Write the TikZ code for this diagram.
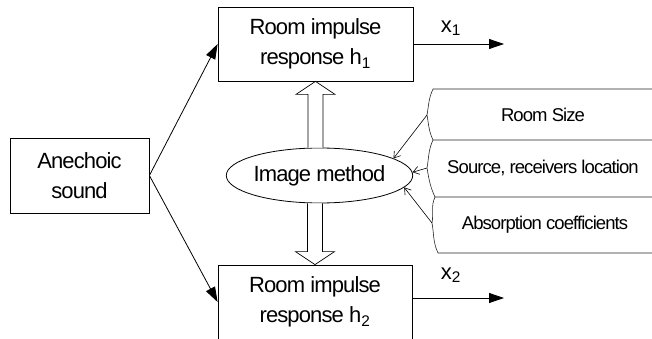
\documentclass[tikz,border=0pt]{standalone}
\usepackage{fontspec}
\setmainfont[LetterSpace=-4]{Liberation Sans}
\newfontfamily\smallfnt[LetterSpace=-5]{Liberation Sans}
\usetikzlibrary{arrows.meta,calc,shapes.geometric}
\newcommand\bigtxt{\fontsize{22}{30}\selectfont}
\newcommand\smtxt{\smallfnt\fontsize{18.5}{22}\selectfont}
\newcommand\hollowarrow[2]{%
  \draw[hollow] let \p1=(#1), \p2=(#2), \n1={(\y2-\y1)/abs(\y2-\y1)} in
   (\x2-7.5pt,\y1) -- (\x2-7.5pt,\y2-13pt*\n1) -- (\x2-19.5pt,\y2-13pt*\n1) -- (\x2,\y2)
   -- (\x2+19.5pt,\y2-13pt*\n1) -- (\x2+7.5pt,\y2-13pt*\n1) -- (\x2+7.5pt,\y1);}
\begin{document}
\begin{tikzpicture}[x=1pt,y=-1pt,
  box/.style={draw, line width=0.8pt, align=center, inner sep=0pt, font=\bigtxt},
  blk/.style={line width=0.8pt, -{Triangle[length=15pt,width=10pt]}},
  hollow/.style={draw, fill=white, line width=0.7pt},
  param/.style={draw=black!85, line width=0.6pt},
  feed/.style={line width=0.6pt, -{Straight Barb[length=6pt,width=8pt]}},
  lbl/.style={font=\smtxt, inner sep=0pt},
  sig/.style={font=\bigtxt, inner sep=0pt}]
\clip (0,0) rectangle (652,339);
\fill[white] (0,0) rectangle (652,339);
% main boxes
\node[box, minimum width=195pt, minimum height=74pt] (top) at (315.5,44) {Room impulse\\response h\textsubscript{1}};
\node[box, minimum width=194pt, minimum height=74pt] (bot) at (315,302) {Room impulse\\response h\textsubscript{2}};
\node[box, minimum width=139pt, minimum height=75pt] (ane) at (79.5,175.5) {Anechoic\\sound};
% image method and hollow arrows
\node[draw, ellipse, line width=0.8pt, minimum width=155pt, minimum height=55pt, inner sep=0pt, font=\bigtxt] (ell) at (319.5,175.5) {Image method};
\hollowarrow{ell.north}{top.south}
\hollowarrow{ell.south}{bot.north}
% arrows from anechoic
\draw[blk] (ane.east) -- (top.west);
\draw[blk] (ane.east) -- (bot.west);
% outputs
\coordinate (o1) at (504,44);
\coordinate (o2) at (504,298);
\draw[blk] (top.east) -- (o1);
\draw[blk] ([yshift=4pt]bot.east) -- (o2);
\node[sig] (x1) at (451,28) {x\textsubscript{1}};
\node[sig] (x2) at (451,275) {x\textsubscript{2}};
% parameter boxes
\coordinate (p1) at (427,115);
\coordinate (p2) at (427,168);
\coordinate (p3) at (432,223);
\draw[param] (652,89) -- (433,89) to[out=-115,in=80] (p1) to[out=-80,in=115] (433,140) -- (652,140);
\draw[param] (433,140) to[out=-115,in=80] (p2) to[out=-80,in=115] (435,197) -- (652,197);
\draw[param] (435,197) to[out=-115,in=80] (p3) to[out=-80,in=115] (438,253) -- (652,253);
\node[lbl] (rs) at (543,114.5) {Room Size};
\node[lbl] (sr) at (543,168) {Source, receivers location};
\node[lbl] (ac) at (545,224.5) {Absorption coefficients};
\draw[feed] (p1) -- (ell.13);
\draw[feed] (p2) -- (ell.2);
\draw[feed] (p3) -- (ell.-8);
\end{tikzpicture}
\end{document}
